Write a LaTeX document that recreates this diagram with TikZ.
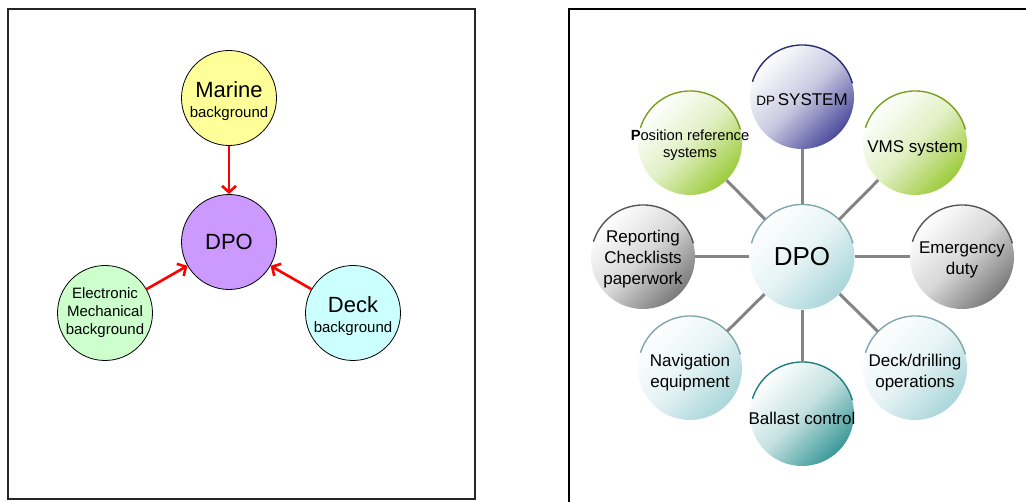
\documentclass[tikz,border=0pt]{standalone}
\usepackage{fontspec}
\setmainfont{Liberation Sans}
\usetikzlibrary{arrows.meta}
\definecolor{cyel}{HTML}{FFFF99}
\definecolor{cpur}{HTML}{CC99FF}
\definecolor{cgrn}{HTML}{CCFFCC}
\definecolor{ccyn}{HTML}{CCFFFF}
\definecolor{sblue}{HTML}{4A4A9C}
\definecolor{ablue}{HTML}{2A2A78}
\definecolor{sgreen}{HTML}{9CCB3B}
\definecolor{agreen}{HTML}{7A9E1A}
\definecolor{sgray}{HTML}{7A7A7A}
\definecolor{agray}{HTML}{555555}
\definecolor{sltl}{HTML}{A9D6DA}
\definecolor{altl}{HTML}{7FA6AA}
\definecolor{steal}{HTML}{3A9898}
\definecolor{ateal}{HTML}{1E7E7E}
\definecolor{conngray}{HTML}{858585}
\begin{document}
\begin{tikzpicture}[x=1pt,y=1pt,
  lcirc/.style={circle, draw=black, line width=0.8pt, minimum size=95pt, inner sep=0pt},
  rcirc/.style={circle, minimum size=104pt, inner sep=0pt},
  sh/.style={top color=white, bottom color=#1, middle color=#1!30!white, shading angle=45},
  redarrow/.style={draw=red, line width=2.6pt, -{Straight Barb[length=6.5pt,width=14pt]}},
  conn/.style={draw=conngray, line width=3pt},
  topArc/.style={line width=1.4pt},
  txt/.style={align=center, inner sep=0pt, text=black},
  big/.style={font=\fontsize{22}{26}\selectfont},
  sm/.style={font=\fontsize{15}{20}\selectfont},
  rt/.style={font=\fontsize{17}{21}\selectfont}
]
\useasboundingbox (0,0) rectangle (1026,501);
\fill[white] (0,0) rectangle (1026,501);

% panels
\draw[line width=1.5pt, draw=black!85] (8,2) rectangle (475,492);
\draw[line width=2.2pt] (569,-5) -- (569,492) -- (1035,492);

% left diagram
\node[lcirc, fill=cyel] (marine) at (229,403) {};
\node[lcirc, fill=cpur] (dpol) at (229,259) {};
\node[lcirc, fill=cgrn] (elec) at (105,188) {};
\node[lcirc, fill=ccyn] (deckl) at (353,188) {};

\node[txt, sm] (tmarine) at ([yshift=-3pt]marine.center) {{\fontsize{22}{26}\selectfont Marine}\\background};
\node[txt, big] (tdpol) at (dpol.center) {DPO};
\node[txt, font=\fontsize{15}{18}\selectfont] (telec) at (elec.center) {Electronic\\Mechanical\\background};
\node[txt, sm] (tdeckl) at ([yshift=-3pt]deckl.center) {{\fontsize{22}{26}\selectfont Deck}\\background};

\draw[redarrow] (marine) -- (dpol);
\draw[redarrow] (elec) -- (dpol);
\draw[redarrow] (deckl) -- (dpol);

% right diagram
\node[rcirc, minimum size=105pt, sh=sltl] (dpor) at (802,244) {};
\node[rcirc, sh=sblue] (dps) at (802,404) {};
\node[rcirc, sh=sgreen] (posref) at (690,358) {};
\node[rcirc, sh=sgreen] (vms) at (915,358) {};
\node[rcirc, sh=sgray] (rep) at (643,244) {};
\node[rcirc, sh=sgray] (emer) at (962,244) {};
\node[rcirc, sh=sltl] (nav) at (690,133) {};
\node[rcirc, sh=sltl] (deckr) at (915,133) {};
\node[rcirc, sh=steal] (ball) at (802,87) {};

\draw[topArc, altl] (dpor.15) arc[start angle=15, end angle=165, radius=52.5pt];
\draw[topArc, ablue] (dps.15) arc[start angle=15, end angle=163, radius=52pt];
\draw[topArc, agreen] (posref.15) arc[start angle=15, end angle=163, radius=52pt];
\draw[topArc, agreen] (vms.15) arc[start angle=15, end angle=163, radius=52pt];
\draw[topArc, agray] (rep.15) arc[start angle=15, end angle=163, radius=52pt];
\draw[topArc, agray] (emer.15) arc[start angle=15, end angle=163, radius=52pt];
\draw[topArc, altl] (nav.15) arc[start angle=15, end angle=163, radius=52pt];
\draw[topArc, altl] (deckr.15) arc[start angle=15, end angle=163, radius=52pt];
\draw[topArc, ateal] (ball.15) arc[start angle=15, end angle=163, radius=52pt];

\draw[conn] (dpor) -- (dps);
\draw[conn] (dpor) -- (posref);
\draw[conn] (dpor) -- (vms);
\draw[conn] (dpor) -- (rep);
\draw[conn] (dpor) -- (emer);
\draw[conn] (dpor) -- (nav);
\draw[conn] (dpor) -- (deckr);
\draw[conn] (dpor) -- (ball);

\node[txt, font=\fontsize{26}{30}\selectfont] (tdpor) at (dpor.center) {DPO};
\node[txt] (tdps) at ([yshift=-3pt]dps.center) {{\fontsize{13.5}{16}\selectfont DP} {\fontsize{17}{20}\selectfont SYSTEM}};
\node[txt, font=\fontsize{14.7}{17}\selectfont] (tposref) at ([yshift=-2pt]posref.center) {\textbf{P}osition reference\\systems};
\node[txt, rt] (tvms) at ([yshift=-5pt]vms.center) {VMS system};
\node[txt, rt] (trep) at ([yshift=-2pt]rep.center) {Reporting\\Checklists\\paperwork};
\node[txt, rt] (temer) at ([yshift=-3pt]emer.center) {Emergency\\duty};
\node[txt, rt] (tnav) at ([yshift=-5pt]nav.center) {Navigation\\equipment};
\node[txt, rt] (tdeckr) at ([yshift=-5pt]deckr.center) {Deck/drilling\\operations};
\node[txt, rt] (tball) at ([yshift=-4pt]ball.center) {Ballast control};
\end{tikzpicture}
\end{document}
